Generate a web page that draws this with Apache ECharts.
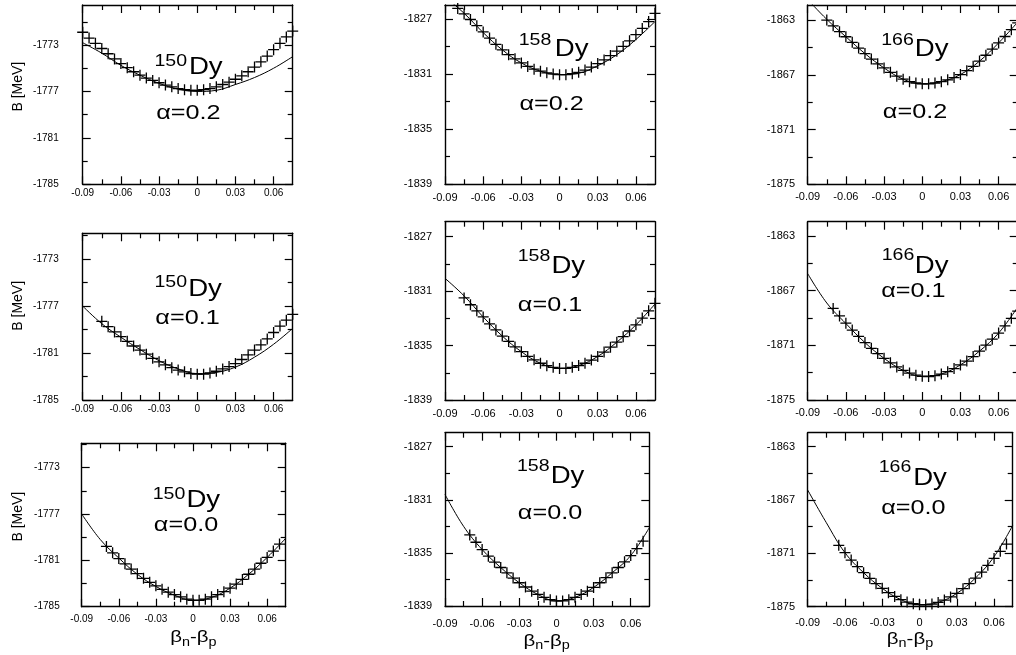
<!DOCTYPE html>
<html><head><meta charset="utf-8">
<script src="https://cdn.jsdelivr.net/npm/echarts@6/dist/echarts.min.js"></script>
<style>html,body{margin:0;padding:0;overflow:hidden;background:#fff}#c{width:1020px;height:655px}</style>
</head><body><div id="c"></div><script>
// ---------- DATA ----------
const isotopes = ['150', '158', '166'];
const alphas = ['0.2', '0.1', '0.0'];
const xTicks = [-0.09, -0.06, -0.03, 0, 0.03, 0.06];
const xMinor = [-0.075, -0.045, -0.015, 0.015, 0.045];
const yTicks150 = [-1785, -1781, -1777, -1773];
const yMinor150 = [-1783, -1779, -1775, -1771];
const yTicks158 = [-1839, -1835, -1831, -1827];
const yMinor158 = [-1837, -1833, -1829];
const yTicks166 = [-1875, -1871, -1867, -1863];
const yMinor166 = [-1873, -1869, -1865];

const curveX = [-0.09, -0.075, -0.06, -0.045, -0.03, -0.015, 0, 0.015, 0.03, 0.045, 0.06, 0.075];
const xsA = [-0.09,-0.085,-0.08,-0.075,-0.07,-0.065,-0.06,-0.055,-0.05,-0.045,-0.04,-0.035,-0.03,-0.025,-0.02,-0.015,-0.01,-0.005,0,0.005,0.01,0.015,0.02,0.025,0.03,0.035,0.04,0.045,0.05,0.055,0.06,0.065,0.07,0.075];
const xsB = [-0.075,-0.07,-0.065,-0.06,-0.055,-0.05,-0.045,-0.04,-0.035,-0.03,-0.025,-0.02,-0.015,-0.01,-0.005,0,0.005,0.01,0.015,0.02,0.025,0.03,0.035,0.04,0.045,0.05,0.055,0.06,0.065,0.07,0.075];
const xsC = [-0.07,-0.065,-0.06,-0.055,-0.05,-0.045,-0.04,-0.035,-0.03,-0.025,-0.02,-0.015,-0.01,-0.005,0,0.005,0.01,0.015,0.02,0.025,0.03,0.035,0.04,0.045,0.05,0.055,0.06,0.065,0.07];
const xsD = [-0.08,-0.075,-0.07,-0.065,-0.06,-0.055,-0.05,-0.045,-0.04,-0.035,-0.03,-0.025,-0.02,-0.015,-0.01,-0.005,0,0.005,0.01,0.015,0.02,0.025,0.03,0.035,0.04,0.045,0.05,0.055,0.06,0.065,0.07,0.075];
const xsE = [-0.07,-0.065,-0.06,-0.055,-0.05,-0.045,-0.04,-0.035,-0.03,-0.025,-0.02,-0.015,-0.01,-0.005,0,0.005,0.01,0.015,0.02,0.025,0.03,0.035,0.04,0.045,0.05,0.055,0.06,0.065,0.07,0.075];
const xsF = [-0.065,-0.06,-0.055,-0.05,-0.045,-0.04,-0.035,-0.03,-0.025,-0.02,-0.015,-0.01,-0.005,0,0.005,0.01,0.015,0.02,0.025,0.03,0.035,0.04,0.045,0.05,0.055,0.06,0.065,0.07];

const curve150_02 = [-1772.8,-1773.7,-1774.75,-1775.6,-1776.3,-1776.8,-1777.0,-1776.9,-1776.4,-1775.8,-1775.0,-1774.0];
const mark150_02 = [-1771.9,-1772.4,-1772.85,-1773.3,-1773.75,-1774.2,-1774.6,-1774.95,-1775.3,-1775.6,-1775.85,-1776.05,-1776.25,-1776.45,-1776.6,-1776.75,-1776.85,-1776.9,-1776.9,-1776.85,-1776.75,-1776.6,-1776.4,-1776.2,-1775.95,-1775.65,-1775.3,-1774.9,-1774.45,-1773.95,-1773.4,-1772.85,-1772.3,-1771.8];
const curve150_01 = [-1777.0,-1778.5,-1779.65,-1780.7,-1781.65,-1782.35,-1782.75,-1782.65,-1782.2,-1781.35,-1780.25,-1778.9];
const mark150_01 = [-1778.3,-1778.75,-1779.2,-1779.6,-1780.0,-1780.4,-1780.75,-1781.1,-1781.45,-1781.75,-1782.0,-1782.25,-1782.45,-1782.6,-1782.75,-1782.8,-1782.8,-1782.7,-1782.55,-1782.35,-1782.15,-1781.9,-1781.55,-1781.15,-1780.75,-1780.3,-1779.8,-1779.25,-1778.7,-1778.2,-1777.7];
const curve150_00 = [-1777.0,-1779.2,-1780.8,-1782.2,-1783.25,-1784.0,-1784.45,-1784.2,-1783.4,-1782.2,-1780.75,-1779.1];
const mark150_00 = [-1779.8,-1780.35,-1780.85,-1781.3,-1781.75,-1782.15,-1782.55,-1782.9,-1783.2,-1783.5,-1783.75,-1783.95,-1784.15,-1784.35,-1784.45,-1784.45,-1784.35,-1784.15,-1783.95,-1783.7,-1783.4,-1783.05,-1782.65,-1782.2,-1781.75,-1781.25,-1780.75,-1780.2,-1779.6];

const curve158_02 = [-1825.4,-1826.6,-1828.0,-1829.25,-1830.2,-1830.8,-1831.05,-1830.95,-1830.4,-1829.6,-1828.5,-1827.2];
const mark158_02 = [-1826.25,-1826.65,-1827.05,-1827.5,-1827.95,-1828.4,-1828.85,-1829.25,-1829.6,-1829.9,-1830.2,-1830.45,-1830.65,-1830.8,-1830.92,-1831.0,-1831.05,-1831.05,-1830.98,-1830.88,-1830.72,-1830.5,-1830.25,-1829.98,-1829.67,-1829.35,-1829.0,-1828.6,-1828.15,-1827.7,-1827.2,-1826.6];
const curve158_01 = [-1830.06,-1831.35,-1832.9,-1834.3,-1835.45,-1836.3,-1836.68,-1836.47,-1835.8,-1834.75,-1833.48,-1831.95];
const mark158_01 = [-1831.5,-1832.0,-1832.45,-1832.9,-1833.4,-1833.85,-1834.3,-1834.7,-1835.1,-1835.45,-1835.8,-1836.05,-1836.3,-1836.48,-1836.6,-1836.68,-1836.68,-1836.6,-1836.47,-1836.3,-1836.07,-1835.8,-1835.48,-1835.12,-1834.75,-1834.35,-1833.93,-1833.48,-1832.98,-1832.45,-1831.9];
const curve158_00 = [-1830.6,-1833.0,-1834.75,-1836.1,-1837.25,-1838.13,-1838.62,-1838.35,-1837.6,-1836.5,-1835.2,-1833.1];
const mark158_00 = [-1833.65,-1834.2,-1834.75,-1835.25,-1835.7,-1836.1,-1836.5,-1836.9,-1837.25,-1837.57,-1837.88,-1838.13,-1838.35,-1838.52,-1838.62,-1838.62,-1838.52,-1838.35,-1838.13,-1837.88,-1837.6,-1837.25,-1836.87,-1836.5,-1836.1,-1835.67,-1835.2,-1834.68,-1834.12];

const curve166_02 = [-1861.5,-1862.95,-1864.22,-1865.45,-1866.5,-1867.32,-1867.66,-1867.5,-1866.98,-1866.0,-1864.67,-1863.15];
const mark166_02 = [-1863.0,-1863.42,-1863.85,-1864.22,-1864.63,-1865.05,-1865.45,-1865.85,-1866.2,-1866.5,-1866.82,-1867.1,-1867.32,-1867.5,-1867.6,-1867.66,-1867.66,-1867.6,-1867.5,-1867.37,-1867.2,-1866.98,-1866.7,-1866.38,-1866.0,-1865.57,-1865.12,-1864.67,-1864.2,-1863.7,-1863.2];
const curve166_01 = [-1865.75,-1867.9,-1869.4,-1870.8,-1871.95,-1872.83,-1873.27,-1873.1,-1872.43,-1871.42,-1870.1,-1868.2];
const mark166_01 = [-1868.3,-1868.85,-1869.38,-1869.88,-1870.35,-1870.8,-1871.22,-1871.6,-1871.95,-1872.28,-1872.58,-1872.83,-1873.03,-1873.18,-1873.27,-1873.28,-1873.22,-1873.1,-1872.93,-1872.7,-1872.43,-1872.15,-1871.82,-1871.42,-1870.98,-1870.55,-1870.1,-1869.58,-1869.02,-1868.5];
const curve166_00 = [-1866.25,-1868.7,-1870.95,-1872.45,-1873.62,-1874.47,-1874.85,-1874.68,-1874.0,-1872.85,-1871.25,-1868.9];
const mark166_00 = [-1870.4,-1870.95,-1871.5,-1872.0,-1872.45,-1872.87,-1873.27,-1873.62,-1873.95,-1874.23,-1874.47,-1874.65,-1874.78,-1874.85,-1874.86,-1874.8,-1874.68,-1874.5,-1874.27,-1874.0,-1873.65,-1873.27,-1872.85,-1872.4,-1871.9,-1871.38,-1870.85,-1870.3];

// ---------- LAYOUT ----------
const FONT = '"Liberation Sans", Arial, Helvetica, sans-serif';
const panels = [
  {col:0,row:0,grid:{left:82.7,top:5,width:210,height:179.3},ymin:-1785,ymax:-1769.55,yt:yTicks150,ym:yMinor150,cy:curve150_02,mx:xsA,my:mark150_02,fs:10,ylm:24,xlm:4,
   sup:[170.8,61],dy:[205.8,68],al:[188.3,113]},
  {col:0,row:1,grid:{left:82.7,top:233.3,width:210,height:166.7},ymin:-1785,ymax:-1770.8,yt:yTicks150,ym:yMinor150,cy:curve150_01,mx:xsB,my:mark150_01,fs:10,ylm:24,xlm:4,
   sup:[170.8,282.5],dy:[205,289.5],al:[187.5,318]},
  {col:0,row:2,grid:{left:81.7,top:443.3,width:204,height:163.4},ymin:-1785,ymax:-1770.9,yt:yTicks150,ym:yMinor150,cy:curve150_00,mx:xsC,my:mark150_00,fs:10,ylm:22,xlm:8,
   sup:[169,494],dy:[203.3,501],al:[186,525.5]},
  {col:1,row:0,grid:{left:445,top:5,width:210,height:179.3},ymin:-1839,ymax:-1826,yt:yTicks158,ym:yMinor158,cy:curve158_02,mx:xsD,my:mark158_02,fs:11,ylm:13,xlm:8,
   sup:[535,40.5],dy:[571.7,49.5],al:[551.7,104]},
  {col:1,row:1,grid:{left:445,top:221.7,width:210,height:178.3},ymin:-1839,ymax:-1825.9,yt:yTicks158,ym:yMinor158,cy:curve158_01,mx:xsB,my:mark158_01,fs:11,ylm:13,xlm:8,
   sup:[534,256],dy:[568.3,266.5],al:[550,305.5]},
  {col:1,row:2,grid:{left:445,top:432.7,width:204.3,height:173.3},ymin:-1839,ymax:-1825.95,yt:yTicks158,ym:yMinor158,cy:curve158_00,mx:xsC,my:mark158_00,fs:11,ylm:13,xlm:12,
   sup:[533.3,466],dy:[567.5,476.5],al:[550,513.5]},
  {col:2,row:0,grid:{left:807.7,top:5,width:210,height:179.3},ymin:-1875,ymax:-1861.9,yt:yTicks166,ym:yMinor166,cy:curve166_02,mx:xsB,my:mark166_02,fs:11,ylm:12.7,xlm:7,
   sup:[897.5,40.5],dy:[931.7,49.5],al:[915,112]},
  {col:2,row:1,grid:{left:807.7,top:221.7,width:210,height:178.3},ymin:-1875,ymax:-1861.95,yt:yTicks166,ym:yMinor166,cy:curve166_01,mx:xsE,my:mark166_01,fs:11,ylm:12.7,xlm:7,
   sup:[898,255.5],dy:[931.7,266.5],al:[913.3,291]},
  {col:2,row:2,grid:{left:807.7,top:432.7,width:205,height:174},ymin:-1875,ymax:-1861.95,yt:yTicks166,ym:yMinor166,cy:curve166_00,mx:xsF,my:mark166_00,fs:11,ylm:12.7,xlm:11,
   sup:[895,467.5],dy:[930,478.5],al:[913.3,508.5]}
];

function zip(xs, ys) { return xs.map((x, i) => [x, ys[i]]); }
function fmtX(v) { return Math.abs(v) < 1e-9 ? '0' : String(+v.toFixed(3)); }

const LINE = {color:'#000', width:1.4};
const grids = [], xAxes = [], yAxes = [], series = [], graphics = [];

panels.forEach((p, gi) => {
  grids.push(Object.assign({containLabel:false, show:false}, p.grid));
  const xb = {type:'value', gridIndex:gi, min:-0.09, max:0.075, splitLine:{show:false}, axisLabel:{show:false}};
  const yb = {type:'value', gridIndex:gi, min:p.ymin, max:p.ymax, splitLine:{show:false}, axisLabel:{show:false}};
  const majT = vals => ({show:true, inside:true, length:8, lineStyle:{color:'#000', width:1.2}, customValues:vals});
  const minT = vals => ({show:true, inside:true, length:5, lineStyle:{color:'#000', width:1.2}, customValues:vals});
  const shownLine = {show:true, onZero:false, lineStyle:LINE};
  const hiddenLine = {show:false, onZero:false};
  xAxes.push(Object.assign({}, xb, {position:'bottom', axisLine:shownLine, axisTick:majT(xTicks),
    axisLabel:{show:true, customValues:xTicks, fontSize:p.fs, color:'#000', fontFamily:FONT, margin:p.xlm, formatter:fmtX}}));
  xAxes.push(Object.assign({}, xb, {position:'top', axisLine:shownLine, axisTick:majT(xTicks)}));
  xAxes.push(Object.assign({}, xb, {position:'bottom', axisLine:hiddenLine, axisTick:minT(xMinor)}));
  xAxes.push(Object.assign({}, xb, {position:'top', axisLine:hiddenLine, axisTick:minT(xMinor)}));
  yAxes.push(Object.assign({}, yb, {position:'left', axisLine:shownLine, axisTick:majT(p.yt),
    axisLabel:{show:true, customValues:p.yt, fontSize:p.fs, color:'#000', fontFamily:FONT, margin:p.ylm, formatter:v => String(Math.round(v))}}));
  yAxes.push(Object.assign({}, yb, {position:'right', axisLine:shownLine, axisTick:majT(p.yt)}));
  yAxes.push(Object.assign({}, yb, {position:'left', axisLine:hiddenLine, axisTick:minT(p.ym)}));
  yAxes.push(Object.assign({}, yb, {position:'right', axisLine:hiddenLine, axisTick:minT(p.ym)}));

  series.push({type:'line', xAxisIndex:4*gi, yAxisIndex:4*gi, data:zip(curveX, p.cy), showSymbol:false, smooth:0.4,
    lineStyle:{color:'#000', width:1}, clip:true, silent:true, z:3});
  series.push({type:'scatter', xAxisIndex:4*gi, yAxisIndex:4*gi, data:zip(p.mx, p.my), symbol:'path://M5 0L5 10M0 5L10 5',
    symbolSize:11, itemStyle:{color:'rgba(0,0,0,0)', borderColor:'#000', borderWidth:1.3, opacity:1}, clip:false, silent:true, z:4});

  const txt = (pos, s, size, sx) => ({type:'text', x:pos[0], y:pos[1], scaleX:sx, z:10,
    style:{text:s, font:size + 'px ' + FONT, fill:'#000', align:'center', verticalAlign:'middle'}});
  graphics.push(txt(p.sup, isotopes[p.col], 17, 1.15));
  graphics.push(txt(p.dy, 'Dy', 23, 1.2));
  graphics.push(txt(p.al, '\u03b1=' + alphas[p.row], 21, 1.2));
});

[86.7, 305.8, 516.7].forEach(y => graphics.push({type:'text', x:18, y:y, rotation:Math.PI/2, z:10,
  style:{text:'B [MeV]', font:'14px ' + FONT, fill:'#000', align:'center', verticalAlign:'middle'}}));
[[193.3, 637.5], [546.7, 641], [910, 639]].forEach(pt => graphics.push({type:'text', x:pt[0], y:pt[1], scaleX:1.2, z:10,
  style:{text:'{b|\u03b2}{s|n}{b|-\u03b2}{s|p}', align:'center', verticalAlign:'middle', fill:'#000',
    rich:{b:{fontSize:17, lineHeight:22, fontFamily:FONT, fill:'#000', verticalAlign:'middle'},
          s:{fontSize:12, lineHeight:12, fontFamily:FONT, fill:'#000', verticalAlign:'bottom'}}}}));

const chart = echarts.init(document.getElementById('c'), null, {renderer:'canvas', width:1020, height:655});
chart.setOption({
  animation:false, backgroundColor:'#fff',
  grid:grids, xAxis:xAxes, yAxis:yAxes, series:series, graphic:graphics
});
</script></body></html>
